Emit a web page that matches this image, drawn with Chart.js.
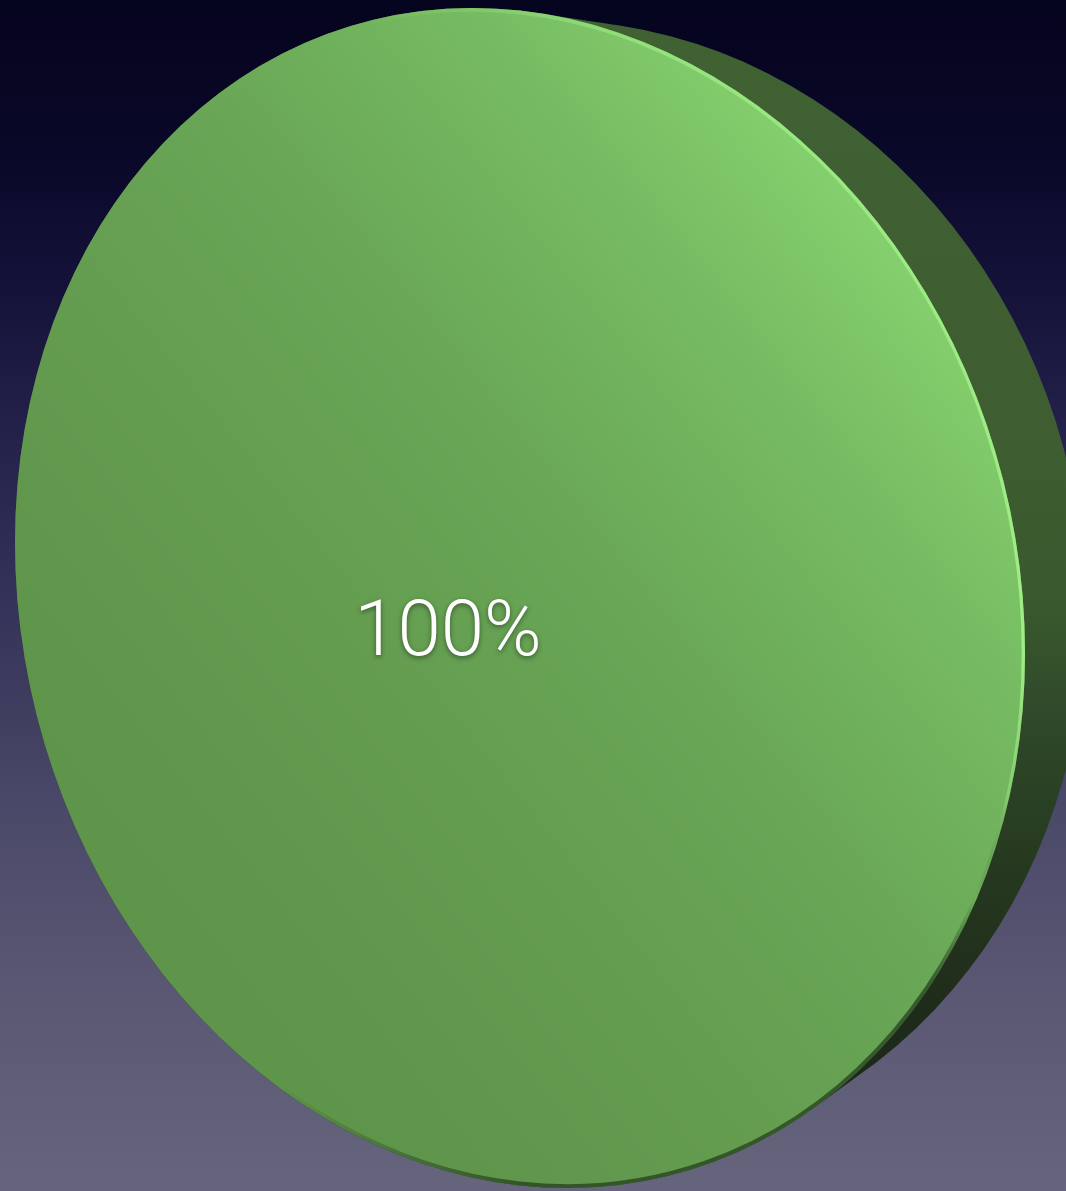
<!DOCTYPE html>
<html>
<head>
<meta charset="utf-8">
<script src="https://cdn.jsdelivr.net/npm/chart.js"></script>
<style>
  html, body { margin: 0; padding: 0; background: #050420; overflow: hidden; }
  canvas { display: block; }
</style>
</head>
<body>
<canvas id="chart" width="1066" height="1191"></canvas>
<script>
// ---- data ----
const categories = ['Series 1'];
const values = [100];
const sliceColors = ['#6aa757'];

// ---- 3D view (projection of the pie disc: front face and back face) ----
const VIEW_FRONT = { dx: -13, dy: 2.5, a: 0.9475, b: 0.1040, d: 1.1021 };
const VIEW_BACK  = { dx: 37,  dy: -5.5, a: 0.9675, b: 0.0452, d: 1.0683 };
const LABEL_OFFSET = { x: -72, y: 57 };

function xform(v, x0, y0) {
  return [v.a, v.b, 0, v.d, x0 + v.dx - v.a * x0, y0 + v.dy - v.b * x0 - v.d * y0];
}
function toLocal(v, x0, y0, sx, sy) {
  const x = x0 + (sx - (x0 + v.dx)) / v.a;
  const y = y0 + (sy - (y0 + v.dy) - v.b * (x - x0)) / v.d;
  return { x, y };
}
function lerpView(p, q, t) {
  return { dx: p.dx + (q.dx - p.dx) * t, dy: p.dy + (q.dy - p.dy) * t,
           a: p.a + (q.a - p.a) * t, b: p.b + (q.b - p.b) * t, d: p.d + (q.d - p.d) * t };
}
function geom(chart) {
  const ca = chart.chartArea;
  return { x0: (ca.left + ca.right) / 2, y0: (ca.top + ca.bottom) / 2,
           r: Math.min(ca.right - ca.left, ca.bottom - ca.top) / 2 };
}

function faceFill(context) {
  const chart = context.chart;
  if (!chart.chartArea) return sliceColors[0];
  const g = geom(chart);
  const cx = g.x0 + VIEW_FRONT.dx, cy = g.y0 + VIEW_FRONT.dy;
  const p1 = toLocal(VIEW_FRONT, g.x0, g.y0, cx + 0.863 * g.r, cy - 0.690 * g.r);
  const p2 = toLocal(VIEW_FRONT, g.x0, g.y0, cx - 0.488 * g.r, cy + 0.754 * g.r);
  const grad = chart.ctx.createLinearGradient(p1.x, p1.y, p2.x, p2.y);
  grad.addColorStop(0, '#8bd872');
  grad.addColorStop(0.25, '#76bb62');
  grad.addColorStop(0.5, '#69a656');
  grad.addColorStop(0.75, '#639b4f');
  grad.addColorStop(1, '#5f944b');
  return grad;
}
function rimGradient(ctx, x0, y0) {
  const grad = ctx.createConicGradient(0, x0, y0);
  grad.addColorStop(0.00, 'rgba(165,245,140,0.85)');
  grad.addColorStop(0.04, 'rgba(165,245,140,0.35)');
  grad.addColorStop(0.07, 'rgba(0,0,0,0)');
  grad.addColorStop(0.10, 'rgba(20,40,15,0.6)');
  grad.addColorStop(0.25, 'rgba(20,40,15,0.6)');
  grad.addColorStop(0.33, 'rgba(20,40,15,0)');
  grad.addColorStop(0.70, 'rgba(165,245,140,0)');
  grad.addColorStop(0.80, 'rgba(165,245,140,0.6)');
  grad.addColorStop(1.00, 'rgba(165,245,140,0.85)');
  return grad;
}

const view3d = {
  id: 'view3d',
  beforeDraw(chart) {
    const ctx = chart.ctx, w = chart.width, h = chart.height;
    const bg = ctx.createLinearGradient(0, 0, 0, h);
    bg.addColorStop(0.00, '#05041e');
    bg.addColorStop(0.13, '#0a0828');
    bg.addColorStop(0.25, '#15133a');
    bg.addColorStop(0.34, '#211f47');
    bg.addColorStop(0.46, '#2f2d55');
    bg.addColorStop(0.59, '#3f3d5f');
    bg.addColorStop(0.67, '#4a4868');
    bg.addColorStop(0.84, '#5a5873');
    bg.addColorStop(1.00, '#66657d');
    ctx.save();
    ctx.fillStyle = bg;
    ctx.fillRect(0, 0, w, h);
    ctx.restore();
  },
  beforeDatasetsDraw(chart) {
    const ctx = chart.ctx;
    const arc = chart.getDatasetMeta(0).data[0];
    const x = arc.x, y = arc.y, r = arc.outerRadius;
    // side of the disc: sweep from back face to front face
    ctx.save();
    ctx.beginPath();
    const N = 60;
    for (let i = 0; i <= N; i++) {
      const v = lerpView(VIEW_BACK, VIEW_FRONT, i / N);
      ctx.setTransform(...xform(v, x, y));
      ctx.moveTo(x + r, y);
      ctx.arc(x, y, r, 0, Math.PI * 2);
    }
    ctx.setTransform(1, 0, 0, 1, 0, 0);
    const side = ctx.createLinearGradient(0, 0, 0, chart.height);
    side.addColorStop(0.00, '#406233');
    side.addColorStop(0.38, '#3e5d31');
    side.addColorStop(0.50, '#395a2e');
    side.addColorStop(0.60, '#30492a');
    side.addColorStop(0.72, '#263a20');
    side.addColorStop(0.85, '#1f2b1a');
    side.addColorStop(1.00, '#1b2617');
    ctx.fillStyle = side;
    ctx.fill();
    ctx.restore();
    // front face projection
    ctx.save();
    ctx.setTransform(...xform(VIEW_FRONT, x, y));
  },
  afterDatasetsDraw(chart) {
    const ctx = chart.ctx;
    const arc = chart.getDatasetMeta(0).data[0];
    const x = arc.x, y = arc.y, r = arc.outerRadius;
    // bevel rim of the front face
    ctx.save();
    ctx.beginPath();
    ctx.arc(x, y, r, 0, Math.PI * 2);
    ctx.clip();
    ctx.beginPath();
    ctx.arc(x, y, r, 0, Math.PI * 2);
    ctx.lineWidth = 7;
    ctx.strokeStyle = rimGradient(ctx, x, y);
    ctx.stroke();
    ctx.restore();
    ctx.restore();

    const total = values.reduce((s, v) => s + v, 0);
    const text = Math.round(values[0] / total * 100) + '%';
    ctx.save();
    ctx.font = '300 78px Roboto, Lato, "Open Sans", sans-serif';
    ctx.fillStyle = '#ffffff';
    ctx.textAlign = 'center';
    ctx.textBaseline = 'alphabetic';
    ctx.shadowColor = 'rgba(0,0,0,0.45)';
    ctx.shadowBlur = 5;
    ctx.shadowOffsetX = 0;
    ctx.shadowOffsetY = 2;
    ctx.fillText(text, x + VIEW_FRONT.dx + LABEL_OFFSET.x, y + VIEW_FRONT.dy + LABEL_OFFSET.y);
    ctx.restore();
  }
};

new Chart(document.getElementById('chart'), {
  type: 'pie',
  data: {
    labels: categories,
    datasets: [{
      data: values,
      backgroundColor: faceFill,
      borderWidth: 0,
      clip: false
    }]
  },
  options: {
    responsive: false,
    devicePixelRatio: 1,
    animation: false,
    events: [],
    layout: { padding: 0 },
    plugins: { legend: { display: false }, tooltip: { enabled: false } }
  },
  plugins: [view3d]
});
</script>
</body>
</html>
